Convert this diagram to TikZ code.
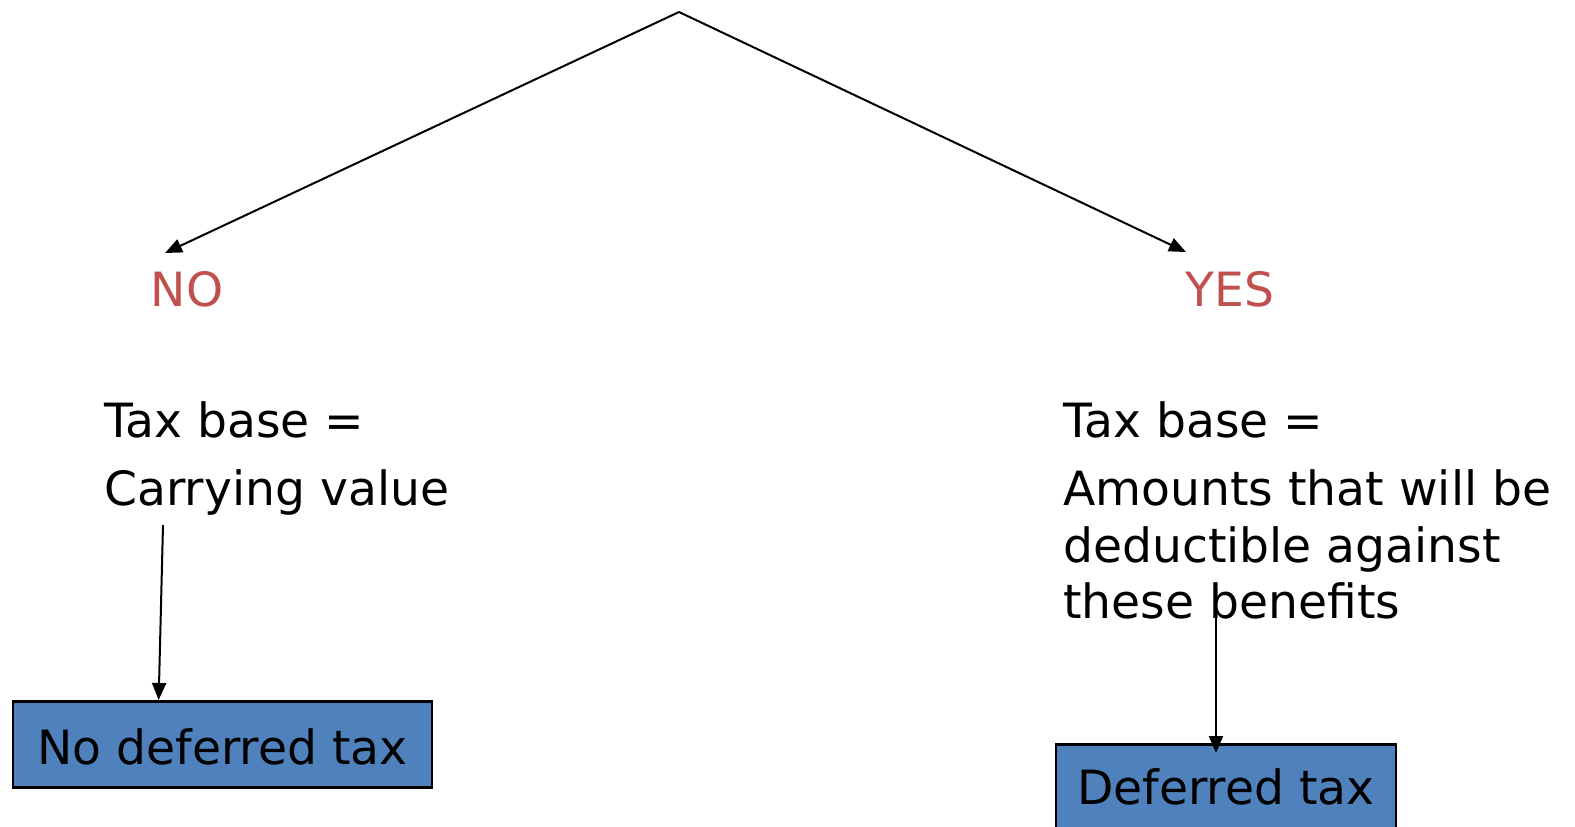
\documentclass[tikz,border=0pt]{standalone}
\usepackage{fontspec}
\setmainfont{DejaVu Sans}
\usepackage{xcolor}
\usetikzlibrary{arrows.meta,calc,positioning}

\definecolor{boxblue}{RGB}{79,129,189}
\definecolor{answerred}{RGB}{192,80,77}

\tikzset{
  flow/.style={line width=1pt,-{Triangle[length=8.5pt,width=7pt]}},
  answer/.style={text=answerred,inner sep=0pt,anchor=center},
  plain/.style={inner sep=0pt,anchor=base west},
  taxbox/.style={draw=black,line width=1.35pt,fill=boxblue,inner xsep=0pt,inner ysep=0pt}
}

\begin{document}
\begin{tikzpicture}[x=0.5pt,y=-0.5pt,font=\fontsize{23.6}{28.25}\selectfont]
\useasboundingbox (0,0) rectangle (1575,826);

% Answers
\coordinate (apex) at (679,12);
\coordinate (tipL) at (165,253);
\coordinate (tipR) at (1186,252);
\node[answer] (no) at (187,289) {NO};
\node[answer] (yes) at (1230,289) {YES};

% Text Node
\node[plain] (taxL) at (104,437) {Tax base =};
\node[plain] (carryL) at (104,505) {Carrying value};
\node[plain] (taxR) at (1063,437) {Tax base =};
\node[plain] (amountR) at (1063,505) {Amounts that will be};
\node[plain] (deductR) at (1063,562) {deductible against};
\node[plain] (theseR) at (1063,618) {these benefits};

% Boxes
\node[taxbox,minimum width=209.5pt,text height=31.5pt,text depth=11.5pt,anchor=north] (boxL) at (222.5,700) {No deferred tax};
\node[taxbox,minimum width=170pt,text height=30pt,text depth=20pt,anchor=north] (boxR) at (1226,743) {Deferred tax};

% Arrows
\coordinate (startL) at (163,525);
\coordinate (startR) at (1216,613);
\draw[flow] (apex) -- (tipL);
\draw[flow] (apex) -- (tipR);
\draw[flow] (startL) -- ($(boxL.north west)+(147,0)$);
\draw[flow] (startR) -- ($(boxR.north -| startR)+(0,10)$);

\end{tikzpicture}
\end{document}
